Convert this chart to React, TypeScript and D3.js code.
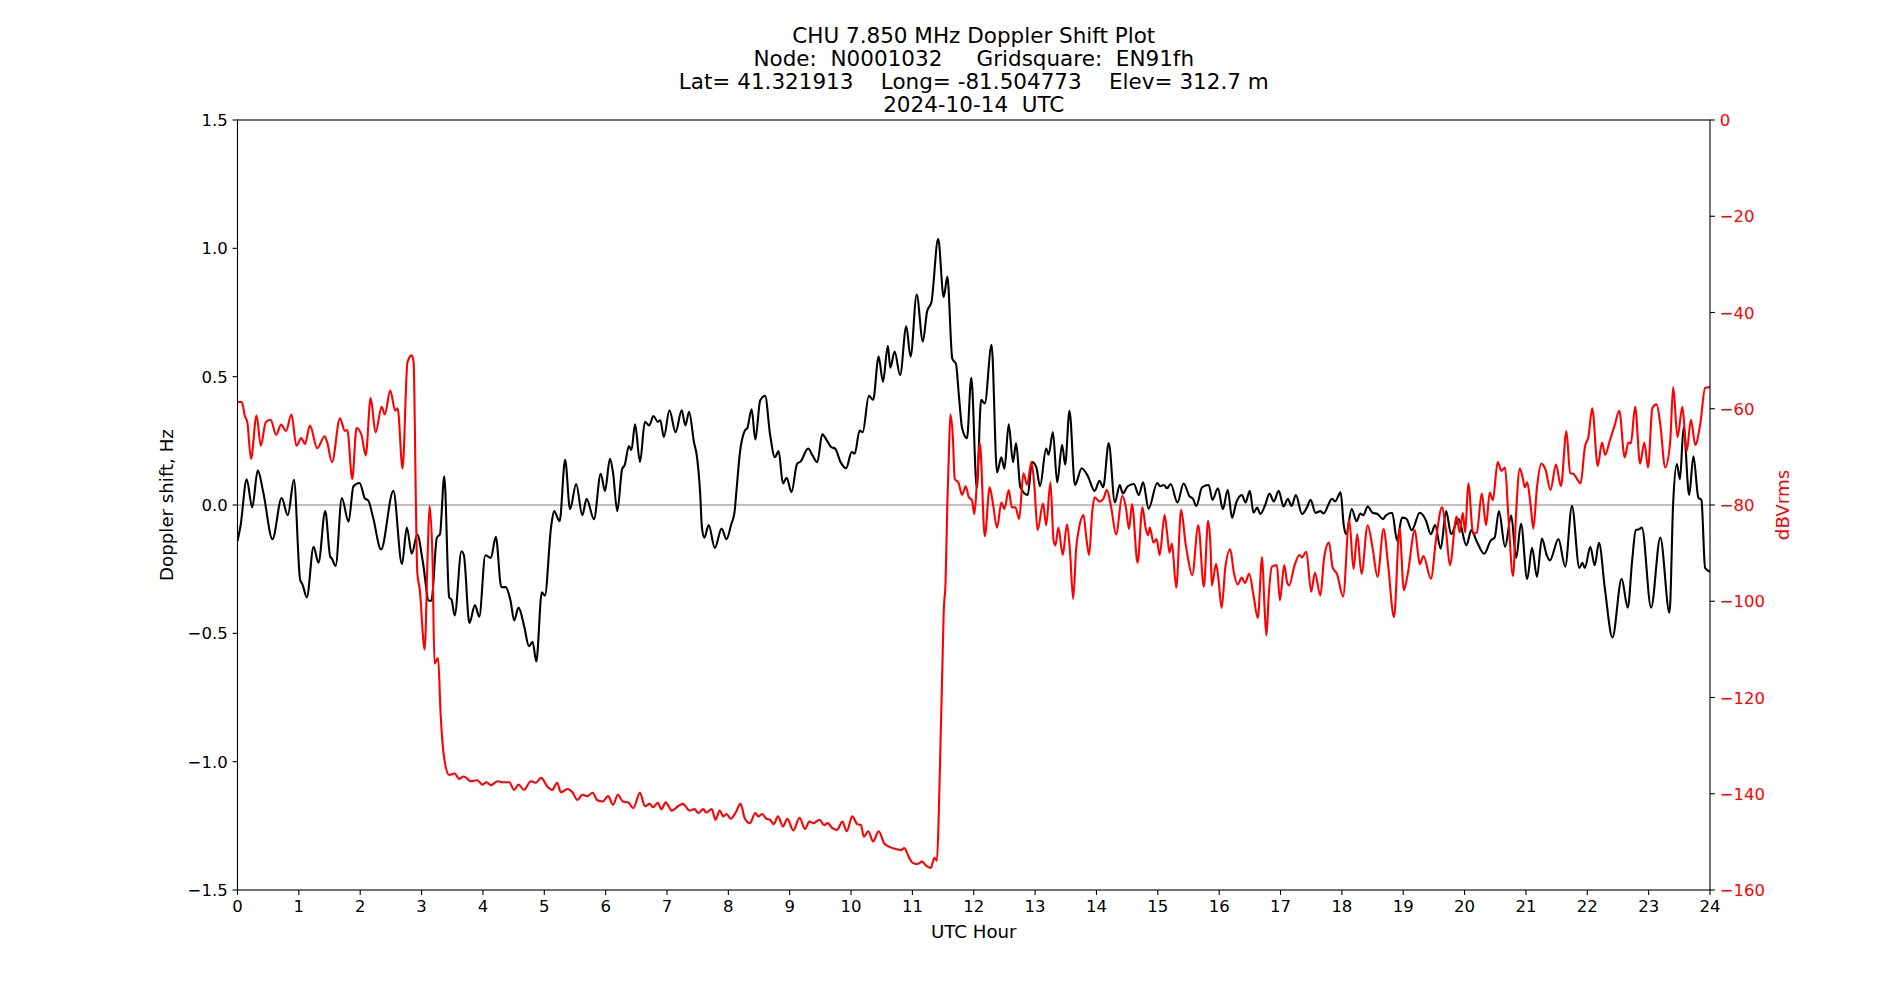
import React from "react";
import * as d3 from "d3";

// ---------- Data ----------
const titleLines = [
  "CHU 7.850 MHz Doppler Shift Plot",
  "Node:  N0001032     Gridsquare:  EN91fh",
  "Lat= 41.321913    Long= -81.504773    Elev= 312.7 m",
  "2024-10-14  UTC",
];
const xLabel = "UTC Hour";
const yLeftLabel = "Doppler shift, Hz";
const yRightLabel = "dBVrms";

const xTicks = d3.range(0, 25, 1);
const yLeftTicks = [-1.5, -1.0, -0.5, 0.0, 0.5, 1.0, 1.5];
const yRightTicks = [-160, -140, -120, -100, -80, -60, -40, -20, 0];

// Doppler shift (Hz) vs UTC hour
const dopplerHours = [
  0.0, 0.05, 0.15, 0.24, 0.33, 0.42, 0.57, 0.72, 0.82, 0.92, 1.02, 1.06, 1.13, 1.24, 1.32, 1.43, 1.51, 1.54, 1.6, 1.7,
  1.81, 1.89, 1.99, 2.08, 2.13, 2.21, 2.34, 2.54, 2.68, 2.76, 2.84, 2.93, 3.02, 3.12, 3.16, 3.25, 3.3, 3.37, 3.45, 3.49,
  3.54, 3.65, 3.69, 3.78, 3.87, 3.94, 4.04, 4.13, 4.21, 4.3, 4.37, 4.45, 4.51, 4.58, 4.67, 4.75, 4.81, 4.87, 4.96, 5.01,
  5.11, 5.16, 5.25, 5.34, 5.42, 5.52, 5.62, 5.69, 5.81, 5.92, 5.99, 6.07, 6.12, 6.19, 6.27, 6.31, 6.38, 6.42, 6.48, 6.56,
  6.64, 6.71, 6.78, 6.85, 6.89, 6.95, 7.04, 7.14, 7.24, 7.3, 7.36, 7.44, 7.49, 7.54, 7.57, 7.61, 7.68, 7.78, 7.89, 7.97,
  8.05, 8.1, 8.13, 8.19, 8.27, 8.31, 8.38, 8.44, 8.52, 8.6, 8.68, 8.76, 8.82, 8.89, 8.95, 9.03, 9.12, 9.18, 9.3, 9.37,
  9.45, 9.53, 9.61, 9.68, 9.74, 9.83, 9.92, 10.01, 10.06, 10.14, 10.19, 10.29, 10.36, 10.45, 10.52, 10.6, 10.64, 10.71,
  10.8, 10.9, 10.97, 11.07, 11.17, 11.24, 11.31, 11.42, 11.51, 11.57, 11.65, 11.71, 11.76, 11.81, 11.89, 11.96, 12.05,
  12.12, 12.18, 12.29, 12.38, 12.45, 12.5, 12.57, 12.64, 12.69, 12.76, 12.88, 12.95, 13.02, 13.08, 13.18, 13.22, 13.29,
  13.36, 13.44, 13.49, 13.56, 13.65, 13.76, 13.86, 13.97, 14.05, 14.11, 14.2, 14.3, 14.38, 14.43, 14.51, 14.61, 14.69,
  14.76, 14.85, 14.99, 15.04, 15.1, 15.15, 15.21, 15.32, 15.42, 15.52, 15.57, 15.63, 15.72, 15.83, 15.89, 15.98, 16.06,
  16.14, 16.21, 16.28, 16.37, 16.43, 16.5, 16.56, 16.62, 16.67, 16.75, 16.82, 16.89, 16.97, 17.05, 17.12, 17.18, 17.25,
  17.35, 17.43, 17.49, 17.57, 17.65, 17.7, 17.84, 17.89, 17.98, 18.03, 18.07, 18.16, 18.24, 18.3, 18.35, 18.42, 18.5,
  18.58, 18.67, 18.72, 18.82, 18.9, 18.98, 19.05, 19.14, 19.27, 19.37, 19.45, 19.52, 19.61, 19.7, 19.78, 19.9, 20.03,
  20.11, 20.19, 20.32, 20.43, 20.49, 20.56, 20.66, 20.76, 20.84, 20.92, 21.02, 21.1, 21.18, 21.26, 21.34, 21.39, 21.53,
  21.64, 21.75, 21.87, 21.92, 21.96, 22.05, 22.12, 22.19, 22.29, 22.41, 22.56, 22.66, 22.73, 22.79, 22.85, 22.89, 23.04,
  23.19, 23.34, 23.4, 23.46, 23.51, 23.57, 23.66, 23.73, 23.81, 23.86, 23.92, 24.0,
];
const dopplerHz = [
  -0.14, -0.08, 0.1, -0.01, 0.135, 0.05, -0.133, 0.027, -0.04, 0.098, -0.29, -0.31, -0.36, -0.163, -0.225, -0.024, -0.2,
  -0.21, -0.237, 0.027, -0.065, 0.073, 0.086, 0.024, 0.018, -0.049, -0.173, 0.055, -0.23, -0.088, -0.19, -0.115, -0.22,
  -0.373, -0.373, -0.127, -0.114, 0.112, -0.36, -0.37, -0.43, -0.18, -0.196, -0.46, -0.39, -0.435, -0.196, -0.206,
  -0.124, -0.32, -0.32, -0.373, -0.45, -0.4, -0.47, -0.55, -0.533, -0.61, -0.34, -0.353, -0.088, -0.024, -0.063, 0.176,
  -0.016, 0.082, -0.04, 0.024, -0.055, 0.122, 0.055, 0.18, 0.127, -0.024, 0.141, 0.155, 0.23, 0.214, 0.314, 0.167, 0.324,
  0.31, 0.347, 0.324, 0.33, 0.265, 0.369, 0.284, 0.369, 0.31, 0.363, 0.245, 0.186, 0.049, -0.088, -0.127, -0.078, -0.167,
  -0.092, -0.133, -0.073, -0.03, 0.049, 0.206, 0.29, 0.3, 0.373, 0.255, 0.408, 0.425, 0.275, 0.186, 0.21, 0.084, 0.106,
  0.05, 0.16, 0.17, 0.22, 0.194, 0.167, 0.275, 0.25, 0.225, 0.22, 0.167, 0.143, 0.206, 0.2, 0.29, 0.284, 0.425, 0.41,
  0.578, 0.48, 0.62, 0.535, 0.598, 0.506, 0.696, 0.578, 0.82, 0.637, 0.755, 0.79, 1.037, 0.81, 0.89, 0.57, 0.55, 0.42,
  0.3, 0.26, 0.496, 0.065, 0.41, 0.396, 0.624, 0.127, 0.186, 0.141, 0.314, 0.167, 0.241, 0.069, 0.039, 0.167, 0.147,
  0.073, 0.22, 0.196, 0.284, 0.088, 0.235, 0.157, 0.367, 0.078, 0.143, 0.112, 0.055, 0.094, 0.069, 0.241, 0.01, 0.078,
  0.045, 0.073, 0.082, 0.039, 0.088, -0.014, 0.086, 0.073, 0.078, 0.065, 0.082, 0.01, 0.084, 0.033, 0.025, -0.004, 0.069,
  0.078, 0.02, 0.065, -0.016, 0.059, -0.05, 0.01, 0.039, 0.01, 0.055, -0.03, -0.01, -0.035, 0.0, 0.045, 0.014, 0.055,
  -0.006, 0.024, -0.004, 0.039, -0.035, -0.01, 0.02, -0.03, -0.024, -0.033, 0.024, 0.014, 0.049, -0.078, -0.114, -0.016,
  -0.063, -0.033, -0.04, -0.006, -0.03, -0.035, -0.055, -0.04, -0.03, -0.139, -0.049, -0.053, -0.098, -0.03, -0.06,
  -0.114, -0.078, -0.17, -0.024, -0.114, -0.055, -0.157, -0.098, -0.137, -0.19, -0.137, -0.127, -0.024, -0.163, -0.041,
  -0.206, -0.073, -0.288, -0.167, -0.28, -0.131, -0.196, -0.216, -0.133, -0.24, -0.004, -0.245, -0.225, -0.245, -0.163,
  -0.235, -0.147, -0.333, -0.516, -0.288, -0.4, -0.22, -0.098, -0.094, -0.088, -0.4, -0.127, -0.42, 0.01, 0.16, 0.1,
  0.304, 0.039, 0.19, 0.029, 0.02, -0.245, -0.26,
];

// Signal level (dBVrms) vs UTC hour
const powerHours = [
  0.0, 0.07, 0.12, 0.16, 0.22, 0.31, 0.38, 0.46, 0.54, 0.63, 0.71, 0.79, 0.88, 0.96, 1.04, 1.1, 1.18, 1.3, 1.42, 1.46,
  1.54, 1.67, 1.75, 1.79, 1.87, 1.94, 2.02, 2.09, 2.17, 2.25, 2.35, 2.4, 2.49, 2.57, 2.61, 2.69, 2.77, 2.84, 2.87, 2.91,
  2.93, 2.97, 3.05, 3.1, 3.13, 3.18, 3.21, 3.27, 3.31, 3.37, 3.45, 3.54, 3.61, 3.69, 3.8, 3.91, 3.99, 4.06, 4.13, 4.24,
  4.32, 4.43, 4.51, 4.58, 4.67, 4.78, 4.86, 4.95, 5.05, 5.13, 5.21, 5.27, 5.38, 5.46, 5.54, 5.62, 5.7, 5.79, 5.86, 5.95,
  6.04, 6.12, 6.2, 6.28, 6.37, 6.45, 6.56, 6.64, 6.72, 6.77, 6.85, 6.91, 6.98, 7.08, 7.18, 7.26, 7.37, 7.45, 7.51, 7.59,
  7.64, 7.73, 7.79, 7.86, 7.92, 7.97, 8.04, 8.12, 8.2, 8.27, 8.35, 8.44, 8.49, 8.55, 8.62, 8.68, 8.74, 8.81, 8.89, 8.96,
  9.06, 9.16, 9.25, 9.32, 9.39, 9.49, 9.56, 9.62, 9.69, 9.77, 9.86, 9.93, 10.02, 10.1, 10.16, 10.21, 10.28, 10.36, 10.45,
  10.54, 10.62, 10.73, 10.81, 10.87, 10.94, 11.0, 11.08, 11.16, 11.21, 11.3, 11.36, 11.4, 11.43, 11.46, 11.49, 11.51,
  11.54, 11.57, 11.6, 11.62, 11.66, 11.69, 11.75, 11.81, 11.87, 11.92, 11.97, 12.01, 12.06, 12.1, 12.18, 12.26, 12.31,
  12.38, 12.45, 12.5, 12.57, 12.62, 12.68, 12.74, 12.81, 12.87, 12.94, 12.99, 13.04, 13.13, 13.18, 13.25, 13.3, 13.33,
  13.38, 13.45, 13.52, 13.57, 13.62, 13.67, 13.71, 13.79, 13.83, 13.88, 13.93, 13.97, 14.05, 14.11, 14.17, 14.24, 14.32,
  14.42, 14.48, 14.53, 14.58, 14.67, 14.75, 14.8, 14.84, 14.87, 14.93, 14.98, 15.03, 15.11, 15.15, 15.19, 15.23, 15.3,
  15.38, 15.45, 15.49, 15.56, 15.66, 15.75, 15.82, 15.86, 15.88, 15.95, 15.99, 16.04, 16.1, 16.18, 16.24, 16.3, 16.37,
  16.42, 16.49, 16.56, 16.63, 16.7, 16.74, 16.77, 16.81, 16.86, 16.94, 16.99, 17.06, 17.11, 17.14, 17.23, 17.31, 17.35,
  17.42, 17.5, 17.56, 17.65, 17.71, 17.79, 17.85, 17.92, 18.02, 18.12, 18.19, 18.25, 18.32, 18.42, 18.5, 18.58, 18.68,
  18.75, 18.85, 18.94, 19.01, 19.07, 19.19, 19.24, 19.27, 19.33, 19.45, 19.54, 19.63, 19.7, 19.76, 19.87, 19.92, 19.97,
  20.01, 20.06, 20.14, 20.2, 20.28, 20.35, 20.41, 20.46, 20.54, 20.6, 20.66, 20.71, 20.79, 20.84, 20.9, 20.95, 20.98,
  21.02, 21.08, 21.12, 21.18, 21.25, 21.32, 21.4, 21.49, 21.57, 21.66, 21.72, 21.77, 21.89, 21.96, 22.02, 22.08, 22.17,
  22.24, 22.29, 22.37, 22.45, 22.52, 22.61, 22.67, 22.71, 22.78, 22.86, 22.93, 22.99, 23.06, 23.13, 23.19, 23.27, 23.35,
  23.4, 23.47, 23.55, 23.62, 23.69, 23.76, 23.84, 23.92, 24.0,
];
const powerDb = [
  -58.6, -58.6, -61.5, -62.8, -70.4, -61.4, -67.7, -62.8, -62.3, -65.4, -63.3, -64.6, -61.2, -67.7, -66.1, -67.3, -63.5,
  -68.2, -65.7, -66.9, -71.1, -62.0, -64.6, -64.4, -74.6, -64.0, -65.4, -69.7, -57.8, -64.9, -59.6, -61.2, -56.2, -60.4,
  -59.9, -72.4, -50.3, -48.9, -50.3, -81.6, -94.0, -97.5, -110.0, -90.0, -80.2, -92.0, -112.9, -111.8, -123.3, -132.7,
  -136.1, -135.8, -136.9, -136.4, -137.4, -137.2, -138.1, -137.6, -138.2, -137.4, -137.6, -137.6, -139.2, -138.1, -139.2,
  -137.4, -137.7, -136.7, -138.5, -139.2, -137.7, -139.7, -139.0, -139.7, -141.3, -140.2, -140.5, -139.8, -141.3, -141.6,
  -140.5, -142.3, -140.2, -141.6, -141.8, -143.0, -139.8, -142.6, -142.1, -142.8, -141.9, -143.2, -141.8, -143.5, -142.6,
  -142.1, -143.5, -143.2, -144.0, -143.2, -143.9, -143.2, -145.4, -143.5, -144.7, -144.2, -145.2, -143.9, -142.1, -145.2,
  -146.1, -144.0, -144.7, -144.2, -145.2, -145.4, -146.3, -144.7, -146.8, -145.2, -147.6, -145.0, -147.3, -145.8, -146.1,
  -145.4, -146.5, -146.1, -147.1, -147.5, -145.8, -147.8, -144.7, -146.3, -146.5, -148.9, -147.8, -149.9, -147.8, -150.3,
  -151.0, -151.5, -151.7, -151.3, -153.1, -154.3, -154.6, -154.1, -154.8, -155.4, -153.3, -153.9, -144.2, -128.5, -112.9,
  -102.4, -96.2, -79.5, -67.0, -61.2, -66.0, -74.6, -75.3, -77.9, -76.1, -78.4, -79.0, -81.9, -73.5, -67.2, -86.5, -76.3,
  -79.5, -84.7, -79.5, -80.8, -76.9, -80.5, -80.5, -82.9, -73.4, -75.8, -71.1, -76.3, -85.2, -79.7, -84.2, -75.3, -87.3,
  -88.4, -84.7, -90.4, -84.0, -89.9, -99.5, -88.9, -85.2, -82.1, -86.3, -90.4, -81.6, -78.4, -79.3, -78.8, -76.9, -80.5,
  -86.1, -78.1, -80.5, -85.0, -79.8, -92.0, -80.5, -84.7, -86.3, -84.7, -87.8, -87.1, -90.4, -82.1, -85.7, -89.9, -88.0,
  -97.2, -81.0, -87.8, -90.9, -94.6, -84.2, -97.0, -83.3, -88.9, -96.7, -92.2, -95.6, -101.4, -93.0, -89.2, -94.1, -96.5,
  -95.1, -96.2, -94.3, -98.8, -103.5, -90.8, -101.4, -107.1, -98.3, -92.8, -92.5, -99.8, -92.5, -96.2, -96.7, -92.5,
  -90.4, -90.9, -89.7, -98.0, -94.1, -98.8, -91.0, -87.8, -93.0, -94.3, -99.0, -83.1, -93.3, -86.1, -94.3, -84.2, -88.9,
  -94.9, -85.0, -92.0, -103.3, -84.9, -97.7, -94.6, -85.2, -90.0, -92.3, -90.6, -95.3, -86.6, -80.5, -85.7, -92.5, -82.4,
  -85.7, -81.6, -85.7, -75.5, -86.0, -85.7, -77.6, -84.2, -77.4, -79.0, -71.1, -72.9, -72.2, -81.6, -94.8, -81.6, -72.4,
  -74.5, -76.3, -75.3, -80.5, -84.9, -76.3, -71.4, -72.7, -76.9, -71.6, -76.1, -64.7, -73.4, -73.5, -75.5, -68.0, -65.7,
  -59.9, -71.9, -67.0, -69.6, -66.5, -63.3, -60.4, -70.1, -67.0, -67.2, -59.6, -71.4, -67.0, -72.2, -59.9, -59.1, -63.3,
  -72.2, -67.0, -55.5, -65.9, -59.6, -68.8, -62.3, -67.5, -63.3, -55.7, -55.5,
];

// ---------- Layout ----------
const W = 1900;
const H = 1000;
const L = 237.5;
const R = 1710;
const T = 120;
const B = 890;
const FONT = "DejaVu Sans, Liberation Sans, sans-serif";

const fmtLeft = (v: number) => (v < 0 ? "\u2212" : "") + Math.abs(v).toFixed(1);
const fmtRight = (v: number) => (v < 0 ? "\u2212" : "") + Math.abs(v).toString();

export default function App() {
  const x = d3.scaleLinear().domain([0, 24]).range([L, R]);
  const yL = d3.scaleLinear().domain([-1.5, 1.5]).range([B, T]);
  const yR = d3.scaleLinear().domain([-160, 0]).range([B, T]);

  const doppler = dopplerHours.map((h, i) => [h, dopplerHz[i]] as [number, number]);
  const power = powerHours.map((h, i) => [h, powerDb[i]] as [number, number]);

  const lineL = d3
    .line<[number, number]>()
    .x((d) => x(d[0]))
    .y((d) => yL(d[1]))
    .curve(d3.curveMonotoneX);
  const lineR = d3
    .line<[number, number]>()
    .x((d) => x(d[0]))
    .y((d) => yR(d[1]))
    .curve(d3.curveMonotoneX);

  const tickLen = 4.9;
  const tickPad = 4.9;
  const tickFont = 16.5;
  const labelFont = 18.2;
  const titleFont = 21.5;
  const titleBaselines = [43, 66, 89, 112];

  return (
    <svg
      width={W}
      height={H}
      viewBox={`0 0 ${W} ${H}`}
      style={{ position: "absolute", left: 0, top: 0, display: "block", background: "#fff" }}
      fontFamily={FONT}
    >
      <rect x={0} y={0} width={W} height={H} fill="#fff" />
      <defs>
        <clipPath id="plotclip">
          <rect x={L} y={T} width={R - L} height={B - T} />
        </clipPath>
      </defs>

      {/* zero line */}
      <line x1={L} x2={R} y1={yL(0)} y2={yL(0)} stroke="#808080" strokeWidth={1.1} />

      <g clipPath="url(#plotclip)">
        <path d={lineL(doppler) || ""} fill="none" stroke="#000" strokeWidth={2.1} strokeLinejoin="round" />
        <path d={lineR(power) || ""} fill="none" stroke="#ff0000" strokeWidth={2.1} strokeLinejoin="round" />
      </g>

      {/* frame */}
      <rect x={L} y={T} width={R - L} height={B - T} fill="none" stroke="#000" strokeWidth={1.1} />

      {/* x ticks */}
      {xTicks.map((t) => (
        <g key={"x" + t}>
          <line x1={x(t)} x2={x(t)} y1={B} y2={B + tickLen} stroke="#000" strokeWidth={1.1} />
          <text x={x(t)} y={B + tickLen + tickPad + 12.3} fontSize={tickFont} textAnchor="middle" fill="#000">
            {t}
          </text>
        </g>
      ))}

      {/* left y ticks */}
      {yLeftTicks.map((t) => (
        <g key={"yl" + t}>
          <line x1={L - tickLen} x2={L} y1={yL(t)} y2={yL(t)} stroke="#000" strokeWidth={1.1} />
          <text x={L - tickLen - tickPad} y={yL(t) + 6} fontSize={tickFont} textAnchor="end" fill="#000">
            {fmtLeft(t)}
          </text>
        </g>
      ))}

      {/* right y ticks */}
      {yRightTicks.map((t) => (
        <g key={"yr" + t}>
          <line x1={R} x2={R + tickLen} y1={yR(t)} y2={yR(t)} stroke="#000" strokeWidth={1.1} />
          <text x={R + tickLen + tickPad} y={yR(t) + 6} fontSize={tickFont} textAnchor="start" fill="#ff0000">
            {fmtRight(t)}
          </text>
        </g>
      ))}

      {/* axis labels */}
      <text x={(L + R) / 2} y={937.5} fontSize={labelFont} textAnchor="middle" fill="#000">
        {xLabel}
      </text>
      <text
        transform={`translate(172.5, ${(T + B) / 2}) rotate(-90)`}
        fontSize={labelFont}
        textAnchor="middle"
        fill="#000"
      >
        {yLeftLabel}
      </text>
      <text
        transform={`translate(1789, ${(T + B) / 2}) rotate(-90)`}
        fontSize={labelFont}
        textAnchor="middle"
        fill="#ff0000"
      >
        {yRightLabel}
      </text>

      {/* title */}
      {titleLines.map((s, i) => (
        <text
          key={"t" + i}
          x={(L + R) / 2}
          y={titleBaselines[i]}
          fontSize={titleFont}
          textAnchor="middle"
          fill="#000"
          style={{ whiteSpace: "pre" }}
        >
          {s}
        </text>
      ))}
    </svg>
  );
}
